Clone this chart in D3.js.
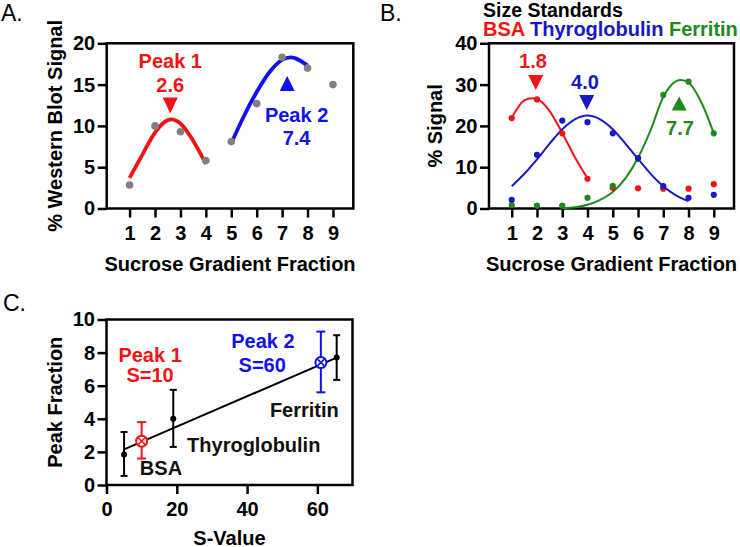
<!DOCTYPE html>
<html>
<head>
<meta charset="utf-8">
<script src="https://cdn.jsdelivr.net/npm/d3@7"></script>
<style>
  body { margin: 0; background: #fff; }
  svg text { font-family: "Liberation Sans", Arial, sans-serif; }
</style>
</head>
<body>
<script>
// ---------------- DATA ----------------
// Panel A: Western blot signal per sucrose gradient fraction
const fractions = [1, 2, 3, 4, 5, 6, 7, 8, 9];
const wbSignal = [2.85, 10.0, 9.3, 5.8, 8.1, 12.7, 18.3, 17.0, 15.0];
// fitted curves
const peak1CurveX = [1, 1.5, 2, 2.5, 2.65, 3, 3.5, 4];
const peak1CurveY = [3.7, 6.5, 9.2, 10.7, 10.8, 10.3, 8.2, 5.4];
const peak2CurveX = [5, 5.5, 6, 6.5, 7, 7.35, 7.5, 8];
const peak2CurveY = [7.9, 11.2, 14.1, 16.5, 18.0, 18.3, 18.2, 17.3];
const aXTicks = [1, 2, 3, 4, 5, 6, 7, 8, 9];
const aYTicks = [0, 5, 10, 15, 20];

// Panel B: size standards
const bsaSignal = [21.9, 26.4, 18.2, 7.2, 5.0, 4.9, 4.8, 4.8, 5.9];
const thyroSignal = [2.1, 13.0, 21.3, 20.9, 18.2, 12.2, 5.4, 2.6, 3.3];
const ferritinSignal = [0.85, 0.7, 0.7, 2.6, 5.5, 12.0, 27.5, 30.7, 18.2];
const bsaCurveX = [1, 1.5, 1.8, 2, 2.5, 3, 3.5, 4];
const bsaCurveY = [22.0, 26.2, 26.7, 26.5, 23.6, 18.3, 12.4, 7.3];
const thyroCurveX = [1, 1.5, 2, 2.5, 3, 3.5, 4, 4.5, 5, 5.5, 6, 6.5, 7, 7.5, 8];
const thyroCurveY = [5.4, 8.4, 11.9, 15.7, 19.2, 21.6, 22.5, 21.6, 19.2, 15.7, 12.0, 8.4, 5.4, 3.2, 1.8];
const ferritinCurveX = [3, 3.5, 4, 4.5, 5, 5.5, 6, 6.5, 7, 7.5, 7.7, 8, 8.5, 9];
const ferritinCurveY = [0.1, 0.3, 0.9, 2.1, 4.0, 7.3, 12.3, 19.0, 27.0, 30.8, 31.1, 30.5, 25.8, 18.2];
const bXTicks = [1, 2, 3, 4, 5, 6, 7, 8, 9];
const bYTicks = [0, 10, 20, 30, 40];

// Panel C: peak fraction vs S-value
const standardNames = ["BSA", "Thyroglobulin", "Ferritin"];
const standardS = [5, 19, 65.5];
const standardPeak = [1.85, 4.0, 7.7];
const standardLow = [0.55, 2.3, 6.35];
const standardHigh = [3.2, 5.75, 9.05];
const unknownNames = ["Peak 1", "Peak 2"];
const unknownS = [10, 61];
const unknownPeak = [2.65, 7.4];
const unknownLow = [1.6, 5.6];
const unknownHigh = [3.8, 9.27];
const fitLineS = [5, 65.5];
const fitLinePeak = [2.15, 7.7];
const cXTicks = [0, 20, 40, 60];
const cYTicks = [0, 2, 4, 6, 8, 10];

// ---------------- STYLE ----------------
const RED = "#f01414";
const BLUE_A = "#1010f0";
const BLUE = "#1818c4";
const GREEN = "#1e8a1e";
const GREY = "#808080";
const FONT = "bold 20px 'Liberation Sans', Arial, sans-serif";

const svg = d3.select("body").append("svg")
  .attr("width", 740).attr("height", 547);

function drawFrame(g, x, y, xTicks, yTicks, xTitle, yTitle, yTitleX, xTitleY) {
  const [x0, x1] = x.range();
  const [y0, y1] = y.range();
  const xa = g.append("g").attr("transform", `translate(0,${y0})`)
    .call(d3.axisBottom(x).tickValues(xTicks).tickSize(9).tickPadding(8).tickSizeOuter(0));
  const ya = g.append("g").attr("transform", `translate(${x0},0)`)
    .call(d3.axisLeft(y).tickValues(yTicks).tickSize(9).tickPadding(2.5).tickSizeOuter(0));
  [xa, ya].forEach(a => {
    a.select(".domain").remove();
    a.selectAll(".tick line").attr("stroke", "#000").attr("stroke-width", 2.5);
    a.selectAll(".tick text").style("font", FONT).attr("fill", "#000");
  });
  g.append("rect")
    .attr("x", x0).attr("y", y1).attr("width", x1 - x0).attr("height", y0 - y1)
    .attr("fill", "none").attr("stroke", "#000").attr("stroke-width", 2.5);
  g.append("text").text(xTitle)
    .attr("x", (x0 + x1) / 2).attr("y", xTitleY)
    .attr("text-anchor", "middle").style("font", FONT);
  g.append("text").text(yTitle)
    .attr("transform", `translate(${yTitleX},${(y0 + y1) / 2}) rotate(-90)`)
    .attr("text-anchor", "middle").style("font", FONT);
}

function curve(g, x, y, xs, ys, color, w) {
  const line = d3.line().x(d => x(d[0])).y(d => y(d[1])).curve(d3.curveMonotoneX);
  g.append("path").datum(d3.zip(xs, ys)).attr("d", line)
    .attr("fill", "none").attr("stroke", color).attr("stroke-width", w)
    .attr("stroke-linecap", "butt");
}

function dots(g, x, y, xs, ys, color, r) {
  g.append("g").selectAll("circle").data(d3.zip(xs, ys)).join("circle")
    .attr("cx", d => x(d[0])).attr("cy", d => y(d[1])).attr("r", r).attr("fill", color);
}

// triangle with tip/apex at (cx,cy); down=true points downward
function triangle(g, cx, cy, w, h, down, color) {
  const p = down
    ? [[cx - w / 2, cy - h], [cx + w / 2, cy - h], [cx, cy]]
    : [[cx - w / 2, cy + h], [cx + w / 2, cy + h], [cx, cy]];
  g.append("path").attr("d", "M" + p.join("L") + "Z").attr("fill", color);
}

function label(g, txt, x, y, color, anchor = "middle") {
  g.append("text").text(txt).attr("x", x).attr("y", y)
    .attr("text-anchor", anchor).attr("fill", color).style("font", FONT);
}

function panelLetter(txt, x, y) {
  svg.append("text").text(txt).attr("x", x).attr("y", y)
    .style("font", "23px 'Liberation Sans', Arial, sans-serif");
}

// ---------------- PANEL A ----------------
{
  const g = svg.append("g");
  const x = d3.scaleLinear().domain([0.1, 9.8]).range([106.7, 353.3]);
  const y = d3.scaleLinear().domain([0, 20]).range([208.5, 43.3]);
  drawFrame(g, x, y, aXTicks, aYTicks, "Sucrose Gradient Fraction", "% Western Blot Signal", 61.5, 270.5);
  curve(g, x, y, peak1CurveX, peak1CurveY, RED, 3.8);
  curve(g, x, y, peak2CurveX, peak2CurveY, BLUE_A, 3.8);
  dots(g, x, y, fractions, wbSignal, GREY, 3.8);
  triangle(g, x(2.6), y(11.5), 15, 16, true, RED);
  label(g, "Peak 1", x(2.6), y(17.0), RED);
  label(g, "2.6", x(2.6), y(14.15), RED);
  triangle(g, x(7.2), y(16.05), 15, 15, false, BLUE_A);
  label(g, "Peak 2", x(7.57), y(10.5), BLUE_A);
  label(g, "7.4", x(7.57), y(7.7), BLUE_A);
}
panelLetter("A.", 1, 21);

// ---------------- PANEL B ----------------
{
  const g = svg.append("g");
  const x = d3.scaleLinear().domain([0.1, 9.8]).range([489, 734]);
  const y = d3.scaleLinear().domain([0, 40]).range([208.5, 43.3]);
  drawFrame(g, x, y, bXTicks, bYTicks, "Sucrose Gradient Fraction", "% Signal", 441.5, 270.5);
  curve(g, x, y, bsaCurveX, bsaCurveY, RED, 2);
  curve(g, x, y, thyroCurveX, thyroCurveY, BLUE, 2);
  curve(g, x, y, ferritinCurveX, ferritinCurveY, GREEN, 2);
  dots(g, x, y, fractions, bsaSignal, RED, 3.1);
  dots(g, x, y, fractions, ferritinSignal, GREEN, 3.1);
  dots(g, x, y, fractions, thyroSignal, BLUE, 3.1);
  triangle(g, x(1.95), y(28.7), 15, 15, true, RED);
  label(g, "1.8", x(1.84), y(33.9), RED);
  triangle(g, x(3.97), y(23.85), 15, 15, true, BLUE);
  label(g, "4.0", x(3.9), y(28.9), BLUE);
  triangle(g, x(7.63), y(27.1), 15, 14, false, GREEN);
  label(g, "7.7", x(7.66), y(17.8), GREEN);

  g.append("text").text("Size Standards").attr("x", 483).attr("y", 17)
    .style("font", "bold 19.5px 'Liberation Sans', Arial, sans-serif");
  const lg = g.append("text").attr("x", 483).attr("y", 36).style("font", FONT);
  lg.append("tspan").text("BSA").attr("fill", RED);
  lg.append("tspan").text(" Thyroglobulin").attr("fill", BLUE);
  lg.append("tspan").text(" Ferritin").attr("fill", GREEN);
}
panelLetter("B.", 380, 21);

// ---------------- PANEL C ----------------
{
  const g = svg.append("g");
  const x = d3.scaleLinear().domain([0, 70]).range([106.5, 352.5]);
  const y = d3.scaleLinear().domain([0, 10]).range([485, 319.5]);
  drawFrame(g, x, y, cXTicks, cYTicks, "S-Value", "Peak Fraction", 61.5, 544.5);

  g.append("line")
    .attr("x1", x(fitLineS[0])).attr("y1", y(fitLinePeak[0]))
    .attr("x2", x(fitLineS[1])).attr("y2", y(fitLinePeak[1]))
    .attr("stroke", "#000").attr("stroke-width", 2);

  function errBar(s, lo, hi, color, cap) {
    g.append("line").attr("x1", x(s)).attr("x2", x(s)).attr("y1", y(lo)).attr("y2", y(hi))
      .attr("stroke", color).attr("stroke-width", 2);
    [lo, hi].forEach(v => g.append("line")
      .attr("x1", x(s) - cap / 2).attr("x2", x(s) + cap / 2).attr("y1", y(v)).attr("y2", y(v))
      .attr("stroke", color).attr("stroke-width", 2));
  }
  standardS.forEach((s, i) => {
    errBar(s, standardLow[i], standardHigh[i], "#000", 7);
    g.append("circle").attr("cx", x(s)).attr("cy", y(standardPeak[i])).attr("r", 3).attr("fill", "#000");
  });
  const ucol = [RED, BLUE_A];
  unknownS.forEach((s, i) => {
    errBar(s, unknownLow[i], unknownHigh[i], ucol[i], 9);
    const cx = x(s), cy = y(unknownPeak[i]), r = 5.5, k = r * 0.62;
    g.append("circle").attr("cx", cx).attr("cy", cy).attr("r", r)
      .attr("fill", "#fff").attr("stroke", ucol[i]).attr("stroke-width", 2);
    g.append("path").attr("d", `M${cx - k},${cy - k}L${cx + k},${cy + k}M${cx - k},${cy + k}L${cx + k},${cy - k}`)
      .attr("stroke", ucol[i]).attr("stroke-width", 1.6);
  });

  label(g, "Peak 1", x(12.4), y(7.45), RED);
  label(g, "S=10", x(12.4), y(6.24), RED);
  label(g, "Peak 2", x(44.5), y(8.26), BLUE_A);
  label(g, "S=60", x(44.3), y(6.85), BLUE_A);
  label(g, "Ferritin", x(56.3), y(4.13), "#111");
  label(g, "Thyroglobulin", x(41.9), y(2.01), "#111");
  label(g, "BSA", x(15.5), y(0.6), "#111");
}
panelLetter("C.", 3, 311);
</script>
</body>
</html>
